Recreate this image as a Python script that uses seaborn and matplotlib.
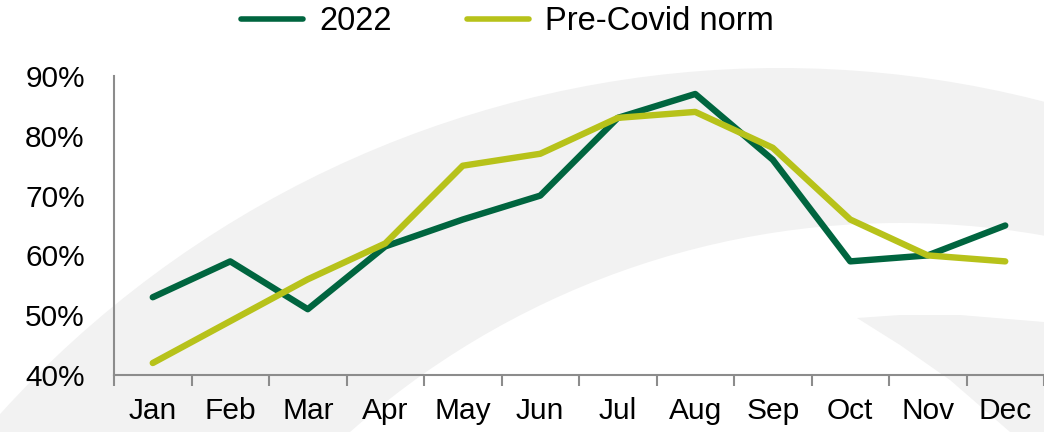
import numpy as np
import pandas as pd
import matplotlib
matplotlib.use("Agg")
import matplotlib.pyplot as plt
import seaborn as sns
from matplotlib.patches import Circle, Polygon

months = ["Jan", "Feb", "Mar", "Apr", "May", "Jun", "Jul", "Aug", "Sep", "Oct", "Nov", "Dec"]
y2022 = [53, 59, 51, 61.5, 66, 70, 83, 87, 76, 59, 60, 65]
pre_covid = [42, 49, 56, 62, 75, 77, 83, 84, 78, 66, 60, 59]
series_names = ["2022", "Pre-Covid norm"]
colors = ["#00653F", "#B7C21A"]

df = pd.DataFrame({
    "month": list(range(len(months))) * 2,
    "value": y2022 + pre_covid,
    "series": [series_names[0]] * len(months) + [series_names[1]] * len(months),
})

sns.set_style("white")
plt.rcParams["font.family"] = ["Liberation Sans", "DejaVu Sans"]
plt.rcParams["text.color"] = "black"

fig = plt.figure(figsize=(10.44, 4.32), dpi=100)

# light grey watermark arcs behind the chart (pixel coordinates)
bg = fig.add_axes([0, 0, 1, 1], zorder=0)
bg.set_xlim(0, 1044)
bg.set_ylim(432, 0)
bg.axis("off")
bg.add_patch(Circle((780, 1120), 1052, color="#F2F2F2", lw=0))
bg.add_patch(Circle((900, 1051), 828, color="white", lw=0))
bg.add_patch(Polygon([(857, 318), (900, 315), (960, 315), (1044, 322),
                      (1044, 432), (1010, 432), (950, 380), (900, 345)],
                     closed=True, color="#F2F2F2", lw=0))

ax = fig.add_axes([0.1092, 0.132, 0.8908, 0.692], zorder=1)
ax.patch.set_alpha(0)

sns.lineplot(data=df, x="month", y="value", hue="series", palette=colors,
             linewidth=4.6, legend=False, ax=ax, solid_capstyle="round")

ax.set_xlim(-0.5, len(months) - 0.5)
ax.set_ylim(40, 90)
ax.set_yticks(range(40, 91, 10))
ax.set_yticklabels([f"{v}%" for v in range(40, 91, 10)])
ax.set_xticks(range(len(months)))
ax.set_xticklabels(months)
ax.set_xticks(np.arange(-0.5, len(months), 1), minor=True)
ax.tick_params(axis="x", which="major", bottom=True, length=0, pad=16,
               labelsize=21.5, labelcolor="black")
ax.tick_params(axis="x", which="minor", bottom=True, length=8, width=1.5,
               color="#8C8C8C", direction="out")
ax.tick_params(axis="y", length=0, pad=21, labelsize=21.5, labelcolor="black")
ax.set_xlabel("")
ax.set_ylabel("")
for s in ["top", "right"]:
    ax.spines[s].set_visible(False)
for s in ["left", "bottom"]:
    ax.spines[s].set_color("#8C8C8C")
    ax.spines[s].set_linewidth(1.5)

handles = [plt.Line2D([], [], color=c, lw=4.0, solid_capstyle="round") for c in colors]
fig.legend(handles, series_names, loc="center", bbox_to_anchor=(0.486, 0.95), ncol=2,
           frameon=False, fontsize=23.5, handlelength=1.9, handletextpad=0.5,
           columnspacing=2.3)

fig.savefig("out.png", dpi=100)
